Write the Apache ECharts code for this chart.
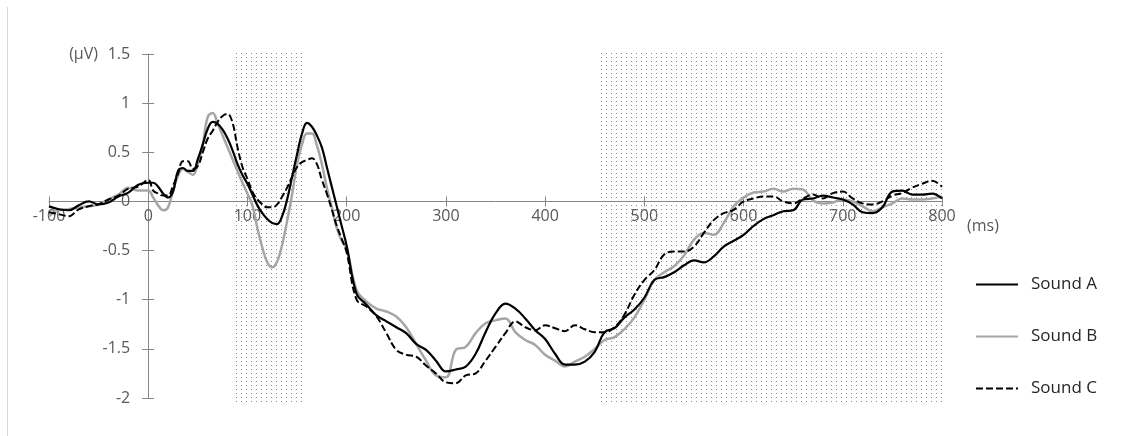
<!DOCTYPE html>
<html><head><meta charset="utf-8">
<script src="https://cdn.jsdelivr.net/npm/echarts@6/dist/echarts.min.js"></script>
<style>html,body{margin:0;padding:0;background:#fff}#c{width:1129px;height:436px}</style>
</head><body><div id="c"></div>
<script>
// time points (ms)
const times = [-100,-90,-80,-70,-60,-50,-40,-30,-20,-10,0,5,10,15,20,25,30,35,40,45,50,55,60,65,70,75,80,85,90,95,100,105,110,115,120,125,130,135,140,145,150,155,160,165,170,175,180,185,190,195,200,
210,220,230,240,250,260,270,280,290,300,310,320,330,340,350,360,370,380,390,400,410,420,430,440,450,460,470,480,490,500,
510,520,530,540,550,560,570,580,590,600,610,620,630,640,650,660,670,680,690,700,710,720,730,740,750,760,770,780,790,800];

const soundA = [-0.05,-0.08,-0.09,-0.04,0.0,-0.03,-0.01,0.05,0.09,0.17,0.19,0.19,0.15,0.08,0.04,0.10,0.31,0.34,0.31,0.31,0.43,0.58,0.74,0.81,0.79,0.73,0.64,0.52,0.38,0.27,0.18,0.07,-0.04,-0.12,-0.18,-0.22,-0.23,-0.15,0.02,0.25,0.48,0.69,0.80,0.76,0.67,0.55,0.35,0.15,-0.05,-0.25,-0.45,
-0.94,-1.05,-1.16,-1.22,-1.28,-1.34,-1.45,-1.51,-1.62,-1.73,-1.71,-1.68,-1.55,-1.33,-1.14,-1.04,-1.09,-1.19,-1.31,-1.40,-1.55,-1.66,-1.66,-1.63,-1.53,-1.33,-1.29,-1.18,-1.10,-0.98,
-0.80,-0.77,-0.72,-0.65,-0.60,-0.62,-0.56,-0.46,-0.40,-0.34,-0.25,-0.18,-0.14,-0.10,-0.09,0.02,0.03,0.06,0.04,0.02,-0.03,-0.11,-0.12,-0.06,0.10,0.11,0.07,0.07,0.08,0.03];

const soundB = [-0.15,-0.09,-0.08,-0.06,-0.05,-0.03,0.02,0.07,0.14,0.11,0.11,0.04,-0.04,-0.09,-0.06,0.11,0.26,0.33,0.30,0.27,0.38,0.58,0.86,0.90,0.79,0.67,0.55,0.43,0.31,0.19,0.08,-0.04,-0.27,-0.47,-0.62,-0.67,-0.61,-0.44,-0.20,0.07,0.38,0.58,0.69,0.69,0.57,0.38,0.14,-0.06,-0.27,-0.40,-0.48,
-0.90,-1.02,-1.09,-1.12,-1.17,-1.28,-1.45,-1.62,-1.77,-1.79,-1.51,-1.48,-1.34,-1.24,-1.21,-1.19,-1.33,-1.41,-1.46,-1.56,-1.62,-1.68,-1.63,-1.58,-1.50,-1.41,-1.38,-1.30,-1.18,-1.00,
-0.80,-0.72,-0.66,-0.55,-0.39,-0.32,-0.34,-0.22,-0.05,0.04,0.09,0.10,0.13,0.10,0.13,0.12,0.01,-0.02,-0.01,0.02,0.00,-0.05,-0.10,-0.06,-0.02,0.03,0.02,0.02,0.03,0.05];

const soundC = [-0.11,-0.13,-0.15,-0.08,-0.05,-0.03,0.02,0.06,0.13,0.15,0.22,0.11,0.08,0.06,0.06,0.16,0.28,0.41,0.41,0.33,0.36,0.50,0.64,0.72,0.81,0.87,0.89,0.80,0.55,0.35,0.23,0.10,0.02,-0.03,-0.06,-0.06,-0.03,0.05,0.14,0.25,0.35,0.40,0.42,0.44,0.38,0.22,0.08,-0.08,-0.25,-0.38,-0.52,
-1.00,-1.07,-1.17,-1.34,-1.51,-1.56,-1.58,-1.67,-1.75,-1.84,-1.85,-1.77,-1.75,-1.62,-1.48,-1.34,-1.22,-1.28,-1.31,-1.26,-1.29,-1.32,-1.26,-1.30,-1.33,-1.33,-1.28,-1.15,-0.95,-0.80,
-0.70,-0.54,-0.51,-0.51,-0.46,-0.32,-0.19,-0.12,-0.085,0.00,0.03,0.05,0.05,0.00,-0.02,0.03,0.07,0.03,0.085,0.10,0.03,-0.02,-0.03,0.00,0.06,0.085,0.14,0.18,0.21,0.15];

// shaded time windows (ms)
const windows = [[85, 155], [455, 800]];
const seriesNames = ['Sound A', 'Sound B', 'Sound C'];
const xTicks = {min: -100, max: 800, step: 100};
const yTicks = {min: -2, max: 1.5, step: 0.5};

const pat = document.createElement('canvas');
pat.width = 5; pat.height = 4;
const pg = pat.getContext('2d');
pg.fillStyle = '#8a8a8a';
pg.fillRect(1, 1, 1, 1);

const FONT = '"Open Sans", sans-serif';
const axisGrey = '#868686';
const labelGrey = '#595959';

const chart = echarts.init(document.getElementById('c'), null, {renderer: 'canvas'});
const toData = arr => times.map((t, i) => [t, arr[i]]);

function xAxisOpt(extra) {
  return Object.assign({
    type: 'value', min: xTicks.min, max: xTicks.max, interval: xTicks.step,
    axisLine: {onZero: false, lineStyle: {color: axisGrey, width: 1}},
    axisTick: {show: true, length: 5, lineStyle: {color: axisGrey}},
    axisLabel: {color: labelGrey, fontSize: 16, fontFamily: FONT, margin: 7},
    splitLine: {show: false}
  }, extra);
}
function yAxisOpt(extra) {
  return Object.assign({
    type: 'value', min: yTicks.min, max: yTicks.max, interval: yTicks.step,
    axisLine: {onZero: false, lineStyle: {color: axisGrey, width: 1}},
    axisTick: {show: true, length: 6, lineStyle: {color: axisGrey}},
    axisLabel: {color: labelGrey, fontSize: 16, fontFamily: FONT, margin: 18},
    splitLine: {show: false}
  }, extra);
}

chart.setOption({
  animation: false,
  backgroundColor: '#fff',
  grid: [
    {left: 49, right: 187, top: 54, bottom: 38, outerBoundsMode: 'none'},
    {left: 49, right: 187, top: 51, bottom: 31, outerBoundsMode: 'none'}
  ],
  xAxis: [
    xAxisOpt({position: 'bottom'}),
    xAxisOpt({position: 'top', axisLine: {show: false, onZero: false}, axisLabel: {show: false}}),
    {type: 'value', gridIndex: 1, min: xTicks.min, max: xTicks.max, show: false}
  ],
  yAxis: [
    yAxisOpt({position: 'left'}),
    yAxisOpt({position: 'right', axisLine: {show: false, onZero: false}, axisLabel: {show: false}}),
    {type: 'value', gridIndex: 1, min: 0, max: 1, show: false}
  ],
  legend: {
    data: seriesNames,
    orient: 'vertical', left: 975, top: 276, padding: 0,
    itemWidth: 42, itemHeight: 14, itemGap: 35,
    itemStyle: {opacity: 0},
    textStyle: {color: '#262626', fontSize: 17, fontFamily: FONT, padding: [0, 0, 0, 8]}
  },
  graphic: [
    {type: 'text', x: 98, y: 54, style: {text: '(μV)', fill: labelGrey, font: '16px ' + FONT, align: 'right', verticalAlign: 'middle'}},
    {type: 'text', x: 967, y: 226, style: {text: '(ms)', fill: labelGrey, font: '16px ' + FONT, align: 'left', verticalAlign: 'middle'}},
    {type: 'line', shape: {x1: 7.5, y1: 7, x2: 7.5, y2: 436}, style: {stroke: '#d9d9d9', lineWidth: 1}}
  ],
  series: [
    {
      name: 'windows', type: 'line', xAxisIndex: 2, yAxisIndex: 2, data: [], symbol: 'none', z: 1,
      markArea: {
        silent: true,
        itemStyle: {color: {image: pat, repeat: 'repeat'}},
        data: windows.map(w => [{xAxis: w[0]}, {xAxis: w[1]}])
      }
    },
    {
      name: seriesNames[0], type: 'line', data: toData(soundA), showSymbol: false, symbol: 'none',
      smooth: 0.4, z: 4,
      lineStyle: {color: '#000', width: 2.2}, itemStyle: {color: '#000'}
    },
    {
      name: seriesNames[1], type: 'line', data: toData(soundB), showSymbol: false, symbol: 'none',
      smooth: 0.4, z: 3,
      lineStyle: {color: '#a6a6a6', width: 2.5}, itemStyle: {color: '#a6a6a6'}
    },
    {
      name: seriesNames[2], type: 'line', data: toData(soundC), showSymbol: false, symbol: 'none',
      smooth: 0.4, z: 3,
      lineStyle: {color: '#000', width: 2, type: [7, 3]}, itemStyle: {color: '#000'}
    }
  ]
});

// move the axes so they cross at the origin (labels travel with them)
const origin = chart.convertToPixel({gridIndex: 0}, [0, 0]);
const lowCorner = chart.convertToPixel({gridIndex: 0}, [xTicks.min, yTicks.min]);
const highCorner = chart.convertToPixel({gridIndex: 0}, [xTicks.max, yTicks.max]);
chart.setOption({
  xAxis: [
    {offset: origin[1] - lowCorner[1]},
    {offset: highCorner[1] - origin[1]}
  ],
  yAxis: [
    {offset: lowCorner[0] - origin[0]},
    {offset: origin[0] - highCorner[0]}
  ]
});
</script>
</body></html>
